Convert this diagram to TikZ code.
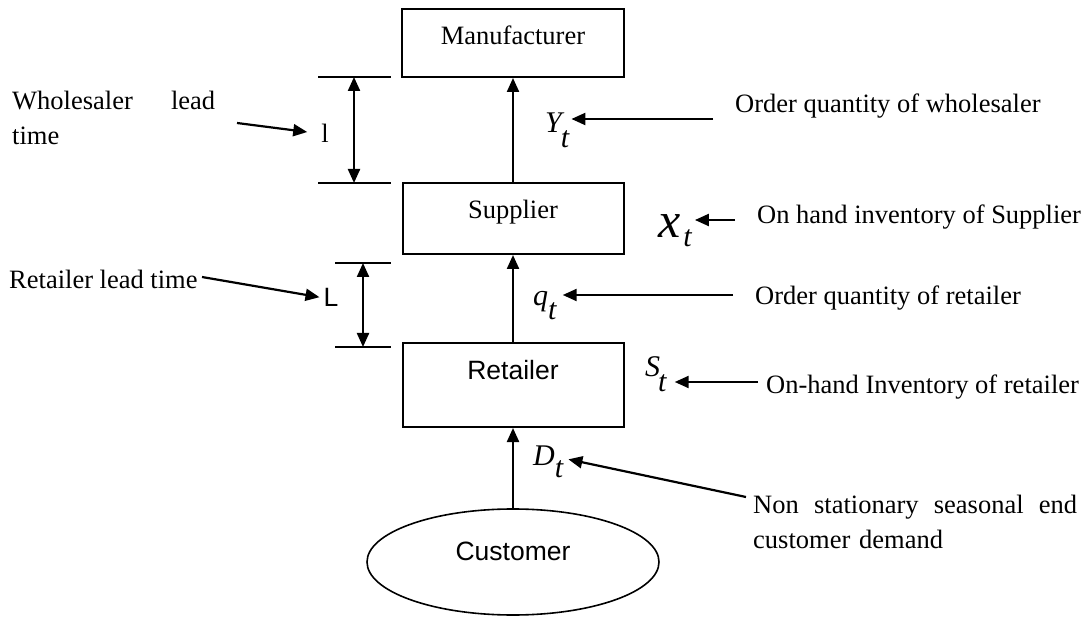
\documentclass[tikz,border=0pt]{standalone}
\usepackage{fontspec}
\setmainfont{Liberation Serif}
\newfontfamily\arialf{Liberation Sans}
\usetikzlibrary{arrows.meta,shapes.geometric}
\begin{document}
\begin{tikzpicture}[x=1pt,y=-1pt,
  box/.style={draw, line width=2pt, rectangle, inner sep=0pt},
  serif/.style={inner sep=0pt, font=\fontsize{26.5}{35}\selectfont},
  sans/.style={inner sep=0pt, font=\arialf\fontsize{26.5}{32}\selectfont},
  arr/.style={line width=2.2pt, -{Triangle[length=14pt,width=12pt]}},
  darr/.style={line width=2.2pt, {Triangle[length=14pt,width=12pt]}-{Triangle[length=14pt,width=12pt]}},
  bar/.style={line width=1.6pt},
  mathlbl/.style={inner sep=0pt, anchor=base west, font=\fontsize{30}{30}\selectfont\itshape}]
\useasboundingbox (0,0) rectangle (1084,617);

% boxes
\node[box, minimum width=222pt, minimum height=68pt] (manu) at (513,43) {};
\node[box, minimum width=221pt, minimum height=71pt] (supp) at (513,218.5) {};
\node[box, minimum width=221pt, minimum height=84pt] (ret) at (513,385) {};
\node[draw, line width=1.6pt, ellipse, minimum width=292pt, minimum height=106pt, inner sep=0pt] (cust) at (513,562) {};

\node[serif, anchor=base] (manuT) at (513,45) {Manufacturer};
\node[serif, anchor=base] (suppT) at (513,219) {Supplier};
\node[sans, anchor=base] (retT) at (513,379) {Retailer};
\node[sans, anchor=base] (custT) at (513,560) {Customer};

% flow arrows
\draw[arr] (cust.north) -- (cust.north |- ret.south);
\draw[arr] (ret.north) -- (ret.north |- supp.south);
\draw[arr] (supp.north) -- (supp.north |- manu.south);

% lead time bars
\coordinate (wb1a) at (318,77);  \coordinate (wb1b) at (391,77);
\coordinate (wb2a) at (318,183); \coordinate (wb2b) at (391,183);
\coordinate (wd1) at (354,77);   \coordinate (wd2) at (354,183);
\draw[bar] (wb1a) -- (wb1b);
\draw[bar] (wb2a) -- (wb2b);
\draw[darr] (wd1) -- (wd2);

\coordinate (rb1a) at (335,263); \coordinate (rb1b) at (391,263);
\coordinate (rb2a) at (335,347); \coordinate (rb2b) at (391,347);
\coordinate (rd1) at (363,263);  \coordinate (rd2) at (363,347);
\draw[bar] (rb1a) -- (rb1b);
\draw[bar] (rb2a) -- (rb2b);
\draw[darr] (rd1) -- (rd2);

% left labels
\node[serif, text width=203pt, align=left, anchor=base west] (wlt) at (12,110) {Wholesaler\hfill lead\\time};
\node[serif, anchor=base] (wl) at (325,143) {l};
\coordinate (wa) at (237,123);
\draw[arr, shorten >=14pt] (wa) -- (wl.west);

\node[serif, anchor=base west] (rlt) at (9,289) {Retailer lead time};
\node[sans, anchor=base] (rl) at (331,307) {L};
\coordinate (ra) at (202,277);
\draw[arr, shorten >=4pt] (ra) -- (rl.west);

% right labels
\node[mathlbl] (Y) at (545,133) {Y\kern-1pt\raisebox{-15pt}{t}};
\node[mathlbl] (X) at (658,238) {{\fontsize{50}{50}\selectfont x}\kern3pt\raisebox{-9pt}{t}};
\node[mathlbl] (Q) at (533,306) {q\raisebox{-14pt}{t}};
\node[mathlbl] (S) at (645,377) {S\kern-2pt\raisebox{-15pt}{t}};
\node[mathlbl] (D) at (533,465) {D\raisebox{-12pt}{t}};

\node[serif, anchor=base west] (oqw) at (735,113) {Order quantity of wholesaler};
\node[serif, anchor=base west] (ohs) at (757,224) {On hand inventory of Supplier};
\node[serif, anchor=base west] (oqr) at (755,305) {Order quantity of retailer};
\node[serif, anchor=base west] (ohr) at (766,393) {On-hand Inventory of retailer};
\node[serif, anchor=base west, text width=324pt, align=left] (nsd) at (753,513) {Non\hfill stationary\hfill seasonal\hfill end\\customer demand};

\coordinate (ya) at (713,119);
\coordinate (xa) at (735,220);
\coordinate (qa) at (733,295);
\coordinate (sa) at (758,382);
\coordinate (da) at (746,497);
\draw[arr] (ya) -- ([xshift=2pt]ya -| Y.east);
\draw[arr] (xa) -- ([xshift=3pt]xa -| X.east);
\draw[arr] (qa) -- ([xshift=6pt]qa -| Q.east);
\draw[arr] (sa) -- ([xshift=8pt]sa -| S.east);
\draw[arr] (da) -- ([xshift=5pt,yshift=2pt]D.east);
\end{tikzpicture}
\end{document}
